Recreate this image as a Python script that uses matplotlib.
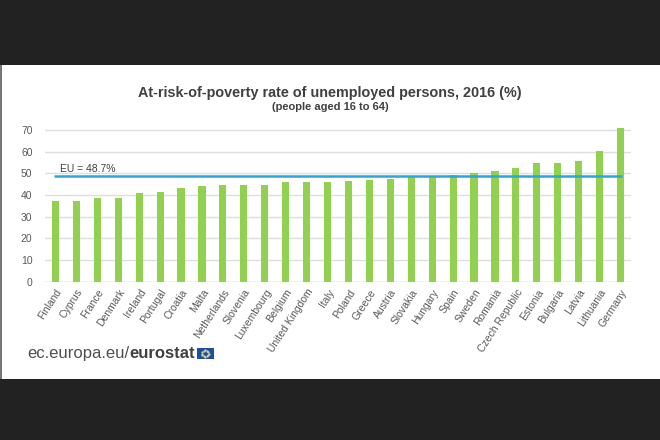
import matplotlib
matplotlib.use("Agg")
import matplotlib.pyplot as plt
from matplotlib.patches import Rectangle
import numpy as np

countries = ["Finland", "Cyprus", "France", "Denmark", "Ireland", "Portugal", "Croatia",
             "Malta", "Netherlands", "Slovenia", "Luxembourg", "Belgium", "United Kingdom",
             "Italy", "Poland", "Greece", "Austria", "Slovakia", "Hungary", "Spain", "Sweden",
             "Romania", "Czech Republic", "Estonia", "Bulgaria", "Latvia", "Lithuania", "Germany"]
values = [37.3, 37.3, 38.5, 38.8, 40.8, 41.5, 43.4, 44.0, 44.8, 44.8, 44.8, 45.9, 45.9,
          45.9, 46.5, 46.9, 47.2, 48.5, 48.5, 49.2, 50.0, 51.2, 52.3, 54.7, 54.7, 55.8,
          60.5, 70.8]
eu_value = 48.7
yticks = [0, 10, 20, 30, 40, 50, 60, 70]

plt.rcParams['font.family'] = ['Liberation Sans', 'DejaVu Sans']

fig = plt.figure(figsize=(6.6, 4.4), dpi=100)
fig.patch.set_facecolor('#222222')

# white panel
fig.patches.append(Rectangle((0.0, 1 - 379 / 440), 1.0, (379 - 65) / 440,
                             transform=fig.transFigure, facecolor='white',
                             edgecolor='none', zorder=-2))
fig.patches.append(Rectangle((0.0, 1 - 379 / 440), 0.003, (379 - 65) / 440,
                             transform=fig.transFigure, facecolor='#777777',
                             edgecolor='none', zorder=-2))

ax = fig.add_axes([45 / 660, 1 - 281.7 / 440, (631 - 45) / 660, (281.7 - 125.7) / 440])
ax.set_zorder(1)
ax.set_facecolor('none')
x = np.arange(len(countries))
ax.bar(x, values, width=0.34, color='#92D050', zorder=2)
ax.set_xlim(-0.5, len(countries) - 0.5)
ax.set_ylim(0, 72)
ax.set_yticks(yticks)
ax.set_yticklabels([str(t) for t in yticks], fontsize=7.5, color='#595959')
ax.set_xticks(x)
ax.set_xticklabels(countries, rotation=57, ha='right', rotation_mode='anchor',
                   fontsize=7.5, color='#595959')
ax.tick_params(axis='both', length=0, pad=4)
ax.tick_params(axis='y', pad=9)
for s in ax.spines.values():
    s.set_visible(False)
ax.grid(axis='y', color='#DEDEDE', linewidth=1, zorder=0)
ax.axhline(0, color='#D9D9D9', linewidth=1, zorder=1)

ax.plot([-0.05, len(countries) - 0.95], [eu_value, eu_value], color='#2BA6D8',
        linewidth=1.8, zorder=3, solid_capstyle='butt')
ax.text(0.2, eu_value + 0.9, "EU = %.1f%%" % eu_value, fontsize=7.5, color='#404040',
        ha='left', va='bottom', zorder=4)

fig.text(330 / 660, 1 - 93 / 440, "At-risk-of-poverty rate of unemployed persons, 2016 (%)",
         ha='center', va='center', fontsize=10.4, fontweight='bold', color='#404040')
fig.text(330 / 660, 1 - 107 / 440, "(people aged 16 to 64)",
         ha='center', va='center', fontsize=8, fontweight='bold', color='#404040')

# footer
t1 = fig.text(27 / 660, 1 - 358 / 440, "ec.europa.eu/", ha='left', va='baseline',
              fontsize=12, color='#505050')
fig.canvas.draw()
bb = t1.get_window_extent()
x2 = bb.x1 / fig.bbox.width
t2 = fig.text(x2, 1 - 358 / 440, "eurostat", ha='left', va='baseline',
              fontsize=12, fontweight='bold', color='#404040')
fig.canvas.draw()
bb2 = t2.get_window_extent()
fx = bb2.x1 / fig.bbox.width + 2 / 660
fig.patches.append(Rectangle((fx, 1 - 359 / 440), 17 / 660, 11 / 440,
                             transform=fig.transFigure, facecolor='#1D4F9C',
                             edgecolor='none', zorder=2))
cx = fx + 8.5 / 660
cy = 1 - 353.5 / 440
ang = np.linspace(0, 2 * np.pi, 12, endpoint=False)
fig.add_artist(plt.Line2D(cx + 3.4 / 660 * np.cos(ang), cy + 3.4 / 440 * np.sin(ang),
                          transform=fig.transFigure, linestyle='none', marker='o',
                          markersize=0.6, color='#D8D8A0', zorder=3))

fig.savefig("out.png", dpi=100, facecolor=fig.get_facecolor())
